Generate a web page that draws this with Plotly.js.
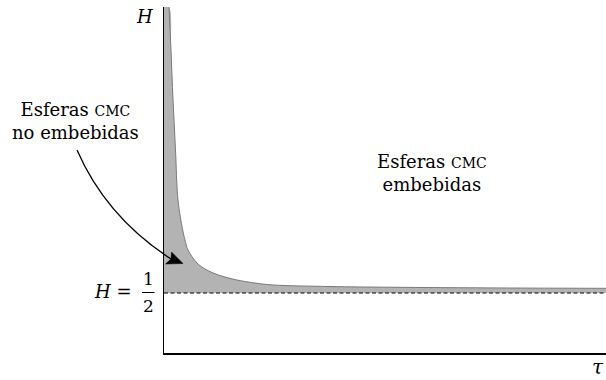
<!DOCTYPE html>
<html>
<head>
<meta charset="utf-8">
<script src="https://cdn.plot.ly/plotly-3.0.1.min.js"></script>
<style>html,body{margin:0;padding:0;background:#fff}#chart{width:606px;height:380px}</style>
</head>
<body>
<div id="chart"></div>
<script>
// Curve H(tau): boundary of the region of non-embedded CMC spheres
const tau = [0.113, 0.158, 0.204, 0.260, 0.317, 0.423, 0.475, 0.543, 0.747, 0.928, 1.109, 1.380, 1.652, 2.059, 2.466, 3.756, 5.113, 7.602, 10];
const H   = [2.883, 2.525, 2.108, 1.692, 1.275, 1.025, 0.942, 0.858, 0.750, 0.700, 0.667, 0.633, 0.608, 0.583, 0.567, 0.554, 0.548, 0.542, 0.539];
const tauRange = [0, 10];
const HRange = [0, 2.8833];
const Hasym = 0.5;

const serif = "DejaVu Serif";

// pixel -> paper helpers for decorations
const L = 164, T = 7, W = 442, PH = 346;
const px = x => (x - L) / W;
const py = y => (T + PH - y) / PH;

const traces = [
  {x: tauRange, y: [Hasym, Hasym], type: 'scatter', mode: 'lines',
   line: {width: 0}, hoverinfo: 'skip'},
  {x: [tauRange[0]].concat(tau), y: [H[0]].concat(H), type: 'scatter', mode: 'lines', fill: 'tonexty',
   fillcolor: '#b3b3b3', line: {width: 0, shape: 'spline', smoothing: 1}, hoverinfo: 'skip'},
  {x: tau, y: H, type: 'scatter', mode: 'lines',
   line: {color: '#7a7a7a', width: 1, shape: 'spline', smoothing: 1}, hoverinfo: 'skip'},
  {x: tauRange, y: [Hasym, Hasym], type: 'scatter', mode: 'lines',
   line: {color: '#000', width: 1, dash: '4px,2.5px'}, hoverinfo: 'skip'}
];

const arrowPath = 'M ' + px(77) + ',' + py(150) + ' Q ' + px(106) + ',' + py(216.7) + ' ' + px(171) + ',' + py(259);
const headPath = 'M ' + px(183) + ',' + py(263.5) + ' L ' + px(171.5) + ',' + py(252) + ' L ' + px(171) + ',' + py(259) + ' L ' + px(165.5) + ',' + py(264) + ' Z';

const sc = s => "<span style='font-size:14px'>" + s + "</span>";
const ann = (x, y, text, size, extra) => Object.assign({
  xref: 'paper', yref: 'paper', x: px(x), y: py(y), text: text, showarrow: false,
  xanchor: 'center', yanchor: 'middle', font: {family: serif, size: size, color: '#000'}
}, extra || {});

const layout = {
  width: 606, height: 380,
  margin: {l: L, r: 0, t: T, b: 380 - T - PH, autoexpand: false},
  paper_bgcolor: '#fff', plot_bgcolor: '#fff',
  showlegend: false,
  xaxis: {range: tauRange, showline: true, linecolor: '#000', linewidth: 1.5,
          showgrid: false, zeroline: false, showticklabels: false, ticks: ''},
  yaxis: {range: HRange, showline: true, linecolor: '#000', linewidth: 1.5,
          showgrid: false, zeroline: false, showticklabels: false, ticks: ''},
  font: {family: serif, size: 18, color: '#000'},
  shapes: [
    {type: 'path', xref: 'paper', yref: 'paper', path: arrowPath, line: {color: '#000', width: 1.3}},
    {type: 'path', xref: 'paper', yref: 'paper', path: headPath, fillcolor: '#000', line: {color: '#000', width: 0.5}},
    {type: 'line', xref: 'paper', yref: 'paper', x0: px(142), x1: px(154.5), y0: py(292.5), y1: py(292.5), line: {color: '#000', width: 1}}
  ],
  annotations: [
    ann(144, 16, '<i>H</i>', 18),
    ann(598, 367, '<i>τ</i>', 20),
    ann(134, 291, '<i>H</i> =', 18, {xanchor: 'right'}),
    ann(148.5, 279, '1', 17),
    ann(148.5, 306, '2', 17),
    ann(75, 121, 'Esferas ' + sc('CMC') + '<br>no embebidas', 18),
    ann(432, 173, 'Esferas ' + sc('CMC') + '<br>embebidas', 18)
  ]
};

Plotly.newPlot('chart', traces, layout, {staticPlot: true, displayModeBar: false});
</script>
</body>
</html>
